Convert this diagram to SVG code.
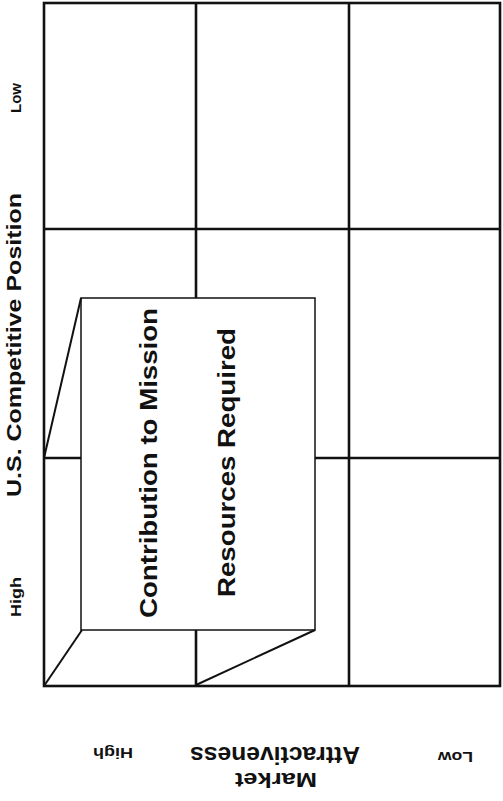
<svg xmlns="http://www.w3.org/2000/svg" width="503" height="801" viewBox="0 0 503 801">
<style>
.grid{stroke:#111;stroke-width:2.6;fill:none}
.box{stroke:#111;stroke-width:1.5;fill:#fff}
.edge{stroke:#111;stroke-width:2;fill:none}
text{font-family:"Liberation Sans",Arial,sans-serif;font-weight:bold;fill:#111;text-anchor:middle}
.big{font-size:24px}
.axis{font-size:21px}
.small{font-size:15px}
</style>
<rect width="503" height="801" fill="#fff"/>
<g id="grid">
<rect class="grid" x="44" y="3" width="456" height="683"/>
<line class="grid" x1="196" y1="3" x2="196" y2="686"/>
<line class="grid" x1="349" y1="3" x2="349" y2="686"/>
<line class="grid" x1="44" y1="229" x2="500" y2="229"/>
<line class="grid" x1="44" y1="458" x2="500" y2="458"/>
</g>
<g id="box">
<rect class="box" x="81" y="298" width="234" height="332"/>
<text class="big" transform="translate(157,463) rotate(-90)" textLength="310" lengthAdjust="spacingAndGlyphs">Contribution to Mission</text>
<text class="big" transform="translate(235,462.5) rotate(-90)" textLength="269" lengthAdjust="spacingAndGlyphs">Resources Required</text>
</g>
<g id="connectors">
<line class="edge" x1="44" y1="458" x2="81" y2="298"/>
<line class="edge" x1="44" y1="686" x2="82" y2="630"/>
<line class="edge" x1="196" y1="685" x2="315" y2="630"/>
</g>
<g id="axis-left">
<text class="axis" transform="translate(21,345) rotate(-90)" textLength="304" lengthAdjust="spacingAndGlyphs">U.S. Competitive Position</text>
<text class="small" transform="translate(21,98) rotate(-90)" textLength="30" lengthAdjust="spacingAndGlyphs">Low</text>
<text class="small" transform="translate(21,597) rotate(-90)" textLength="40" lengthAdjust="spacingAndGlyphs">High</text>
</g>
<g id="axis-bottom">
<text class="big" style="font-size:23px" transform="translate(275,747) rotate(180)" textLength="170" lengthAdjust="spacingAndGlyphs">Attractiveness</text>
<text class="big" style="font-size:21px" transform="translate(276,773) rotate(180)" textLength="82" lengthAdjust="spacingAndGlyphs">Market</text>
<text class="small" transform="translate(113,748) rotate(180)" textLength="40" lengthAdjust="spacingAndGlyphs">High</text>
<text class="small" transform="translate(455.5,752) rotate(180)" textLength="35" lengthAdjust="spacingAndGlyphs">Low</text>
</g>
</svg>
